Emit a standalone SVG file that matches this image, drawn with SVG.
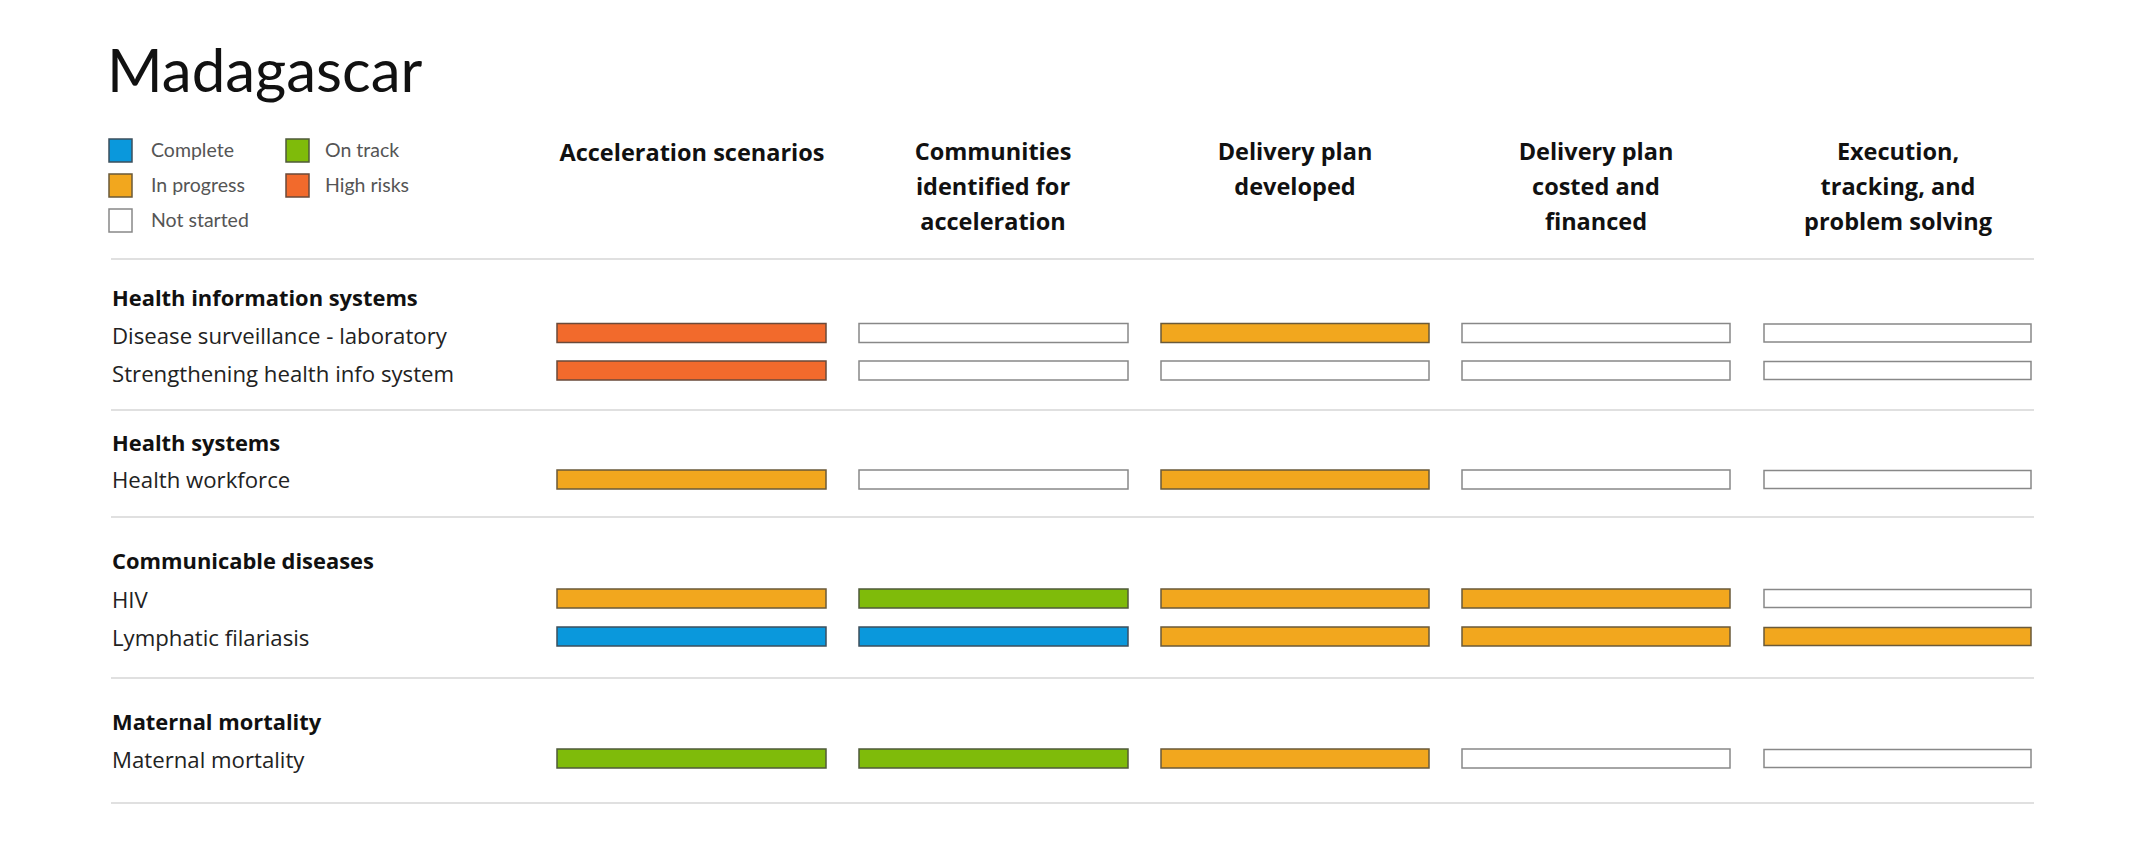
<svg xmlns="http://www.w3.org/2000/svg" width="2151" height="865" viewBox="0 0 2151 865">
<style>
text{font-family:"Open Sans","Noto Sans","Liberation Sans",sans-serif}
.title{font-family:Lato,"Liberation Sans",sans-serif;font-size:60px;fill:#111}
.leg{font-family:Lato,"Liberation Sans",sans-serif;font-size:19.5px;fill:#555}
.hdr{font-size:23.5px;font-weight:bold;fill:#111;text-anchor:middle}
.grp{font-size:21.9px;font-weight:bold;fill:#111}
.lbl{font-size:22.2px;fill:#222}
.sep{stroke:#e0e0e0;stroke-width:2}
.c{fill:#0A98DC;stroke:#3d4f5c;stroke-width:1.5}
.o{fill:#7FBB0A;stroke:#4f5a3a;stroke-width:1.5}
.p{fill:#F2A71E;stroke:#6a5a3a;stroke-width:1.5}
.h{fill:#F26A2C;stroke:#6a4a3a;stroke-width:1.5}
.n{fill:#fff;stroke:#888;stroke-width:1.5}
</style>
<rect width="2151" height="865" fill="#fff"/>
<text class="title" x="107" y="92">Madagascar</text>
<g id="legend">
<rect class="c" x="109" y="139" width="23" height="23"/>
<text class="leg" x="151" y="157">Complete</text>
<rect class="p" x="109" y="174" width="23" height="23"/>
<text class="leg" x="151" y="192">In progress</text>
<rect class="n" x="109" y="209" width="23" height="23"/>
<text class="leg" x="151" y="227">Not started</text>
<rect class="o" x="286" y="139" width="23" height="23"/>
<text class="leg" x="325" y="157">On track</text>
<rect class="h" x="286" y="174" width="23" height="23"/>
<text class="leg" x="325" y="192">High risks</text>
</g>
<g id="headers">
<text class="hdr" x="692" y="161">Acceleration scenarios</text>
<text class="hdr" x="993" y="160">Communities</text>
<text class="hdr" x="993" y="195">identified for</text>
<text class="hdr" x="993" y="230">acceleration</text>
<text class="hdr" x="1295" y="160">Delivery plan</text>
<text class="hdr" x="1295" y="195">developed</text>
<text class="hdr" x="1596" y="160">Delivery plan</text>
<text class="hdr" x="1596" y="195">costed and</text>
<text class="hdr" x="1596" y="230">financed</text>
<text class="hdr" x="1898" y="160">Execution,</text>
<text class="hdr" x="1898" y="195">tracking, and</text>
<text class="hdr" x="1898" y="230">problem solving</text>
</g>
<g id="separators">
<line class="sep" x1="111" y1="259" x2="2034" y2="259"/>
<line class="sep" x1="111" y1="410" x2="2034" y2="410"/>
<line class="sep" x1="111" y1="517" x2="2034" y2="517"/>
<line class="sep" x1="111" y1="678" x2="2034" y2="678"/>
<line class="sep" x1="111" y1="803" x2="2034" y2="803"/>
</g>
<g id="group-his">
<text class="grp" x="112" y="306">Health information systems</text>
<g id="row-disease-surveillance">
<text class="lbl" x="112" y="344">Disease surveillance - laboratory</text>
<rect class="h" x="557" y="323.5" width="269" height="19"/>
<rect class="n" x="859" y="323.5" width="269" height="19"/>
<rect class="p" x="1161" y="323.5" width="268" height="19"/>
<rect class="n" x="1462" y="323.5" width="268" height="19"/>
<rect class="n" x="1764" y="324" width="267" height="18"/>
</g>
<g id="row-strengthening">
<text class="lbl" x="112" y="382">Strengthening health info system</text>
<rect class="h" x="557" y="361" width="269" height="19"/>
<rect class="n" x="859" y="361" width="269" height="19"/>
<rect class="n" x="1161" y="361" width="268" height="19"/>
<rect class="n" x="1462" y="361" width="268" height="19"/>
<rect class="n" x="1764" y="361.5" width="267" height="18"/>
</g>
</g>
<g id="group-hs">
<text class="grp" x="112" y="451">Health systems</text>
<g id="row-workforce">
<text class="lbl" x="112" y="488">Health workforce</text>
<rect class="p" x="557" y="470" width="269" height="19"/>
<rect class="n" x="859" y="470" width="269" height="19"/>
<rect class="p" x="1161" y="470" width="268" height="19"/>
<rect class="n" x="1462" y="470" width="268" height="19"/>
<rect class="n" x="1764" y="470.5" width="267" height="18"/>
</g>
</g>
<g id="group-cd">
<text class="grp" x="112" y="569">Communicable diseases</text>
<g id="row-hiv">
<text class="lbl" x="112" y="608">HIV</text>
<rect class="p" x="557" y="589" width="269" height="19"/>
<rect class="o" x="859" y="589" width="269" height="19"/>
<rect class="p" x="1161" y="589" width="268" height="19"/>
<rect class="p" x="1462" y="589" width="268" height="19"/>
<rect class="n" x="1764" y="589.5" width="267" height="18"/>
</g>
<g id="row-lf">
<text class="lbl" x="112" y="646">Lymphatic filariasis</text>
<rect class="c" x="557" y="627" width="269" height="19"/>
<rect class="c" x="859" y="627" width="269" height="19"/>
<rect class="p" x="1161" y="627" width="268" height="19"/>
<rect class="p" x="1462" y="627" width="268" height="19"/>
<rect class="p" x="1764" y="627.5" width="267" height="18"/>
</g>
</g>
<g id="group-mm">
<text class="grp" x="112" y="730">Maternal mortality</text>
<g id="row-mm">
<text class="lbl" x="112" y="768">Maternal mortality</text>
<rect class="o" x="557" y="749" width="269" height="19"/>
<rect class="o" x="859" y="749" width="269" height="19"/>
<rect class="p" x="1161" y="749" width="268" height="19"/>
<rect class="n" x="1462" y="749" width="268" height="19"/>
<rect class="n" x="1764" y="749.5" width="267" height="18"/>
</g>
</g>
</svg>
